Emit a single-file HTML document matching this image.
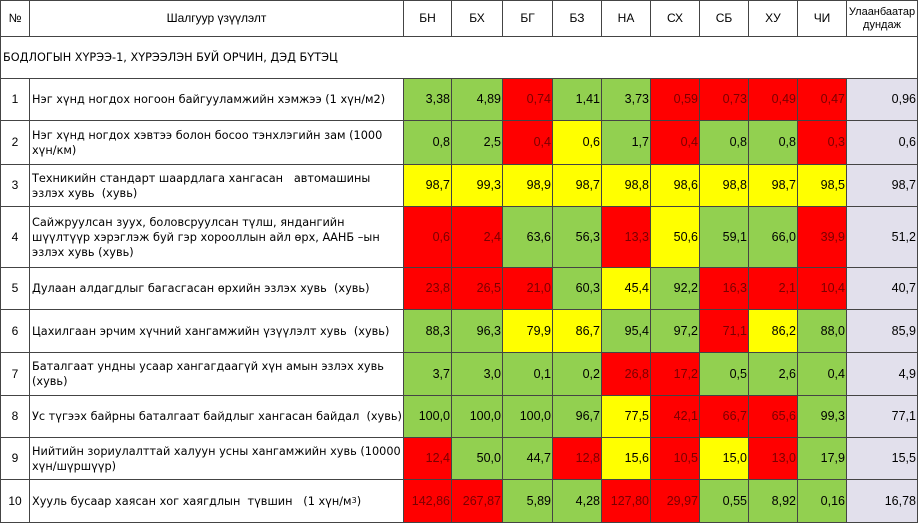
<!DOCTYPE html>
<html><head><meta charset="utf-8"><style>
body{margin:0;width:918px;height:523px;overflow:hidden;background:#fff;font-family:"Liberation Sans","DejaVu Sans",sans-serif;font-size:12px;color:#000}
#tbl{position:absolute;left:0;top:0;width:918px;height:523px}
.c{position:absolute;box-sizing:border-box;border-right:1px solid #444;border-bottom:1px solid #444;display:flex;align-items:center;overflow:hidden;line-height:15px}
.n{justify-content:flex-end;padding-right:1px;font-size:12.5px}
.g{background:#92d050}.r{background:#ff0000;color:#7a0000}.y{background:#ffff00}.u{background:#e2e0ec}
.h{justify-content:center;text-align:center}
.t{padding-left:2px;font-family:"DejaVu Sans",sans-serif;font-size:11.3px}
</style></head><body>
<div id="tbl"></div>
<script>
const xs=[0,30,404,452,503,553,602,651,700,749,798,847,918];
const ys=[0,37,79,121,165,207,268,310,353,396,438,480,523];
const districts=["БН","БХ","БГ","БЗ","НА","СХ","СБ","ХУ","ЧИ"];
const labels=["Нэг хүнд ногдох ногоон байгууламжийн хэмжээ (1 хүн/м2)","Нэг хүнд ногдох хэвтээ болон босоо тэнхлэгийн зам (1000 хүн/км)","Техникийн стандарт шаардлага хангасан &nbsp;&nbsp;автомашины эзлэх хувь &nbsp;(хувь)","Сайжруулсан зуух, боловсруулсан түлш, яндангийн шүүлтүүр хэрэглэж буй гэр хорооллын айл өрх, ААНБ –ын эзлэх хувь (хувь)","Дулаан алдагдлыг багасгасан өрхийн эзлэх хувь &nbsp;(хувь)","Цахилгаан эрчим хүчний хангамжийн үзүүлэлт хувь &nbsp;(хувь)","Баталгаат ундны усаар хангагдаагүй хүн амын эзлэх хувь (хувь)","Ус түгээх байрны баталгаат байдлыг хангасан байдал &nbsp;(хувь)","Нийтийн зориулалттай халуун усны хангамжийн хувь (10000 хүн/шүршүүр)","Хууль бусаар хаясан хог хаягдлын &nbsp;түвшин &nbsp;&nbsp;(1 хүн/м<sup style='font-size:8px;line-height:0'>3</sup>)"];
const values=[
["3,38","4,89","0,74","1,41","3,73","0,59","0,73","0,49","0,47","0,96"],
["0,8","2,5","0,4","0,6","1,7","0,4","0,8","0,8","0,3","0,6"],
["98,7","99,3","98,9","98,7","98,8","98,6","98,8","98,7","98,5","98,7"],
["0,6","2,4","63,6","56,3","13,3","50,6","59,1","66,0","39,9","51,2"],
["23,8","26,5","21,0","60,3","45,4","92,2","16,3","2,1","10,4","40,7"],
["88,3","96,3","79,9","86,7","95,4","97,2","71,1","86,2","88,0","85,9"],
["3,7","3,0","0,1","0,2","26,8","17,2","0,5","2,6","0,4","4,9"],
["100,0","100,0","100,0","96,7","77,5","42,1","66,7","65,6","99,3","77,1"],
["12,4","50,0","44,7","12,8","15,6","10,5","15,0","13,0","17,9","15,5"],
["142,86","267,87","5,89","4,28","127,80","29,97","0,55","8,92","0,16","16,78"]];
const colors=["ggrggrrrr","ggrygrggr","yyyyyyyyy","rrggrygg r".replace(' ',''),"rrrgygrrr","ggyyggryg","ggggrrggg","ggggyrrrg","rggryryrg","rrggrrggg"];
const T=document.getElementById('tbl');
function cell(x0,x1,y0,y1,cls,html,name){const d=document.createElement('div');d.className='c '+cls;d.style.left=x0+'px';d.style.top=y0+'px';d.style.width=(x1-x0)+'px';d.style.height=(y1-y0)+'px';d.innerHTML=html;
if(x0===0)d.style.borderLeft='1px solid #444';
if(y0===0)d.style.borderTop='1px solid #444';


T.appendChild(d);return d;}
cell(xs[0],xs[1],ys[0],ys[1],'h','№','header-number');
cell(xs[1],xs[2],ys[0],ys[1],'h','Шалгуур үзүүлэлт','header-indicator');
districts.forEach((d,i)=>cell(xs[i+2],xs[i+3],ys[0],ys[1],'h',d,'header-district'));
cell(xs[11],xs[12],ys[0],ys[1],'h','<span style="font-size:11px;line-height:13px">Улаанбаатар<br>дундаж</span>','header-ub-average');
cell(0,918,ys[1],ys[2],'t','БОДЛОГЫН ХҮРЭЭ-1, ХҮРЭЭЛЭН БУЙ ОРЧИН, ДЭД БҮТЭЦ','section-title');
for(let r=0;r<10;r++){
 const y0=ys[r+2],y1=ys[r+3];
 cell(xs[0],xs[1],y0,y1,'h',String(r+1),'row-number');
 cell(xs[1],xs[2],y0,y1,'t',labels[r],'indicator-label');
 for(let c=0;c<10;c++){
  const cls=c<9?colors[r][c]:'u';
  cell(xs[c+2],xs[c+3],y0,y1,'n '+cls,values[r][c],c<9?'value-cell':'ub-average-cell');
 }
}
</script>
</body></html>
